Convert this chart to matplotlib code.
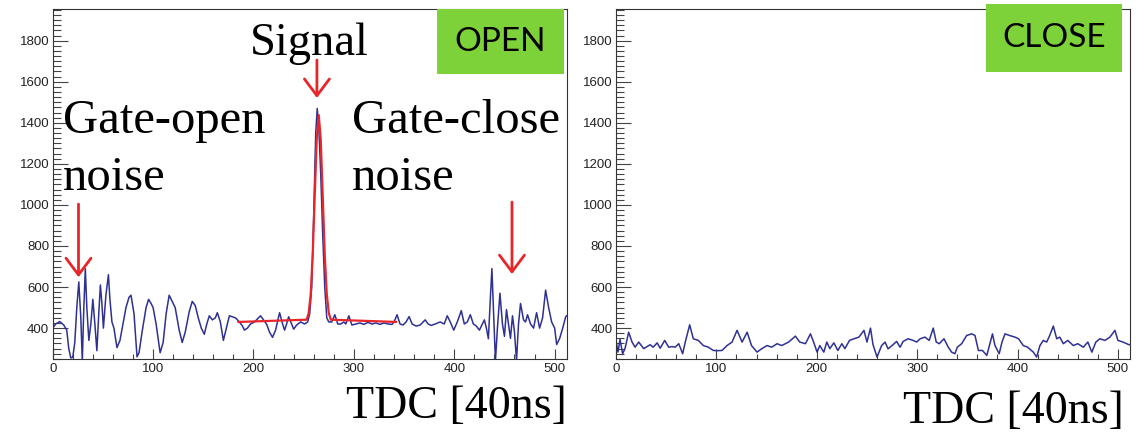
import numpy as np
import matplotlib
matplotlib.use("Agg")
import matplotlib.pyplot as plt
from matplotlib.patches import Rectangle

# TDC histogram, gate OPEN
open_x = [0, 3, 7, 11, 14, 16, 18, 20, 22, 24, 26, 28, 29.5, 31, 32.5, 34, 36, 38, 40, 42,
          44, 46, 47.5, 49, 50.5, 53, 55.5, 57, 59, 61, 64, 67, 70, 73, 76, 78, 81, 84, 86, 89,
          93, 95.5, 98, 100, 103, 107, 110, 113, 116, 119, 122, 126, 129, 132, 136, 139, 142,
          145, 148, 151, 153.5, 156, 159, 162, 164, 167, 170, 173, 176, 179, 182, 186, 189,
          191, 194, 197, 201, 204, 207, 210, 213, 216, 219, 222, 226, 229, 231, 233, 235, 238,
          240, 243, 247, 251, 254, 256, 258, 260, 262, 263.5, 265, 267, 269, 271, 273, 275,
          278, 281, 284, 287, 290, 292, 295, 298, 302, 306, 310, 314, 318, 322, 326, 330, 334,
          338, 340, 343, 346, 349, 352, 355, 358, 362, 366, 369, 371, 374, 377, 381, 386, 390,
          393, 396, 399.5, 403, 407, 410, 413, 416, 419, 422, 425, 428, 430, 432, 434, 436,
          437.5, 439, 441, 443, 445.5, 448, 450, 452, 454, 456, 458, 460, 462, 464, 466, 469,
          471, 473, 476, 479, 482, 485, 488, 491, 494, 497, 500, 502, 505, 508, 511, 512]
open_y = [400, 420, 432, 415, 390, 300, 255, 258, 330, 500, 625, 450, 240, 500, 690, 500, 340, 420, 540, 420,
          290, 480, 610, 520, 400, 560, 660, 540, 430, 400, 305, 340, 420, 500, 550, 560, 470, 260, 280, 380,
          500, 540, 520, 500, 420, 280, 330, 470, 560, 530, 500, 390, 330, 380, 480, 530, 510,
          450, 400, 370, 420, 460, 440, 450, 475, 430, 340, 400, 460, 455, 450, 430, 410,
          390, 400, 420, 430, 445, 460, 440, 420, 380, 355, 390, 475, 420, 390, 420, 455, 420,
          395, 415, 430, 420, 430, 470, 600, 950, 1350, 1470, 1380, 1150, 850, 600, 450, 430,
          430, 465, 420, 420, 430, 420, 460, 415, 420, 425, 418, 428, 420, 425, 418, 425, 420,
          418, 430, 465, 420, 415, 430, 456, 420, 410, 415, 430, 440, 420, 413, 420, 430, 420,
          460, 430, 390, 430, 485, 420, 430, 465, 420, 410, 390, 420, 440, 400, 348, 550,
          690, 500, 240, 400, 570, 420, 360, 490, 420, 350, 460, 380, 240, 420, 520, 440,
          430, 465, 420, 400, 475, 400, 450, 585, 500, 430, 400, 320, 350, 400, 455, 460]

# gaussian + constant fit drawn in red
fit_x = [185, 253, 255, 257, 259, 261, 263, 265, 267, 269, 271, 273, 275, 277, 342]
fit_y = [430, 441, 474, 566, 757, 1041, 1320, 1438, 1320, 1041, 757, 566, 474, 441, 430]

# TDC histogram, gate CLOSE
close_x = [0, 2, 4, 6.6, 9, 12.6, 16, 19, 22.6, 27.6, 31, 34, 37, 41, 44, 48.5, 52.5, 56, 59,
           62.5, 66.4, 69, 73.4, 77, 82, 87, 92, 97, 101, 105.6, 110.6, 115.6, 120.6, 125.6,
           130.6, 135, 140.5, 145, 150.5, 155, 160.5, 165, 172, 178.7, 183, 188.7, 193.7, 197,
           200.3, 203, 207, 210, 213, 217, 221, 225, 228, 232.6, 237, 242, 247, 250, 253.5, 256,
           260, 264.6, 268, 271, 275, 279.5, 283, 286, 291, 296, 299.5, 303, 307.8, 312, 316,
           319, 322, 326.7, 331, 334.3, 337.6, 340, 344.3, 349.3, 354.3, 357.6, 361, 365, 369.4,
           372, 375, 377.5, 381.7, 384.5, 387.5, 392, 397.4, 401, 405.7, 410, 415.7, 419, 422.3,
           425.6, 429, 432, 435.6, 439, 442, 445.6, 450, 455.5, 460, 465.5, 470, 474, 478, 482,
           487, 492, 497, 500, 505, 511, 512]
close_y = [340, 283, 345, 275, 300, 380, 332, 307, 332, 300, 310, 319, 307, 328, 302, 340, 307, 310, 307,
           324, 275, 332, 416, 348, 340, 315, 307, 291, 290, 291, 315, 332, 389, 332,
           380, 315, 283, 299, 315, 307, 324, 315, 332, 361, 332, 324, 372, 330,
           283, 315, 283, 332, 300, 328, 291, 324, 300, 340, 348, 356, 389, 332, 400, 320,
           259, 315, 332, 299, 315, 335, 307, 335, 348, 340, 332, 348, 356, 340, 400,
           332, 324, 348, 307, 283, 275, 307, 324, 364, 372, 364, 291, 291, 267,
           315, 372, 315, 275, 332, 372, 364, 356, 348, 315, 307, 283, 259, 315,
           340, 332, 364, 410, 348, 356, 324, 340, 315, 324, 307, 332, 283, 332, 348,
           340, 356, 389, 340, 332, 319, 320]

W, H = 1148, 434
BLUE = "#2E3192"
RED = "#E8262A"
GREEN = "#7DD23A"
SERIF = "Liberation Serif"


def fx(x):
    return x / W


def fy(y):
    return 1 - y / H


def style_axes(ax):
    ax.set_xlim(0, 512)
    ax.set_ylim(248, 1953)
    ax.set_xticks(np.arange(0, 501, 100))
    ax.set_xticks(np.arange(0, 513, 20), minor=True)
    ax.set_yticks(np.arange(400, 1801, 200))
    ax.set_yticks(np.arange(250, 1951, 25), minor=True)
    ax.tick_params(axis="both", which="both", direction="in", top=False, right=False,
                   labelsize=9.5, labelcolor="#222222", color="#444444", width=0.8)
    ax.tick_params(axis="y", which="major", length=11, pad=2.5)
    ax.tick_params(axis="y", which="minor", length=5.5)
    ax.tick_params(axis="x", which="major", length=7, pad=3)
    ax.tick_params(axis="x", which="minor", length=3.5)
    for lab in ax.get_xticklabels() + ax.get_yticklabels():
        lab.set_family("Liberation Sans")
    for s in ax.spines.values():
        s.set_linewidth(0.8)
        s.set_color("#333333")


fig = plt.figure(figsize=(W / 100, H / 100), dpi=100)

ax1 = fig.add_axes([fx(52.7), fy(359.3), fx(566.7) - fx(52.7), fy(9.3) - fy(359.3)])
ax1.plot(open_x, open_y, color=BLUE, lw=1.1, zorder=2)
ax1.plot(fit_x, fit_y, color=RED, lw=1.6, zorder=3)
style_axes(ax1)

ax2 = fig.add_axes([fx(616), fy(359.3), fx(1130) - fx(616), fy(9.3) - fy(359.3)])
ax2.plot(close_x, close_y, color=BLUE, lw=1.1)
style_axes(ax2)

# red arrows
arrow = dict(arrowstyle="->,head_length=0.6,head_width=0.45", color=RED, lw=2.0,
             mutation_scale=20, shrinkA=0, shrinkB=0)
ax1.annotate("", xy=(263.2, 1521), xytext=(263.2, 1706), arrowprops=arrow)
ax1.annotate("", xy=(25.7, 648), xytext=(25.7, 1004), arrowprops=arrow)
ax1.annotate("", xy=(457.5, 663), xytext=(457.5, 1014), arrowprops=arrow)

# annotation texts
big = 33
fig.text(fx(250), fy(55), "Signal", family=SERIF, size=big + 0.5, va="baseline")
fig.text(fx(63), fy(133), "Gate-open", family=SERIF, size=big + 2, va="baseline")
fig.text(fx(63), fy(190), "noise", family=SERIF, size=big + 2, va="baseline")
fig.text(fx(352), fy(133), "Gate-close", family=SERIF, size=big + 2, va="baseline")
fig.text(fx(352), fy(190), "noise", family=SERIF, size=big + 2, va="baseline")
fig.text(fx(346), fy(418), "TDC [40ns]", family=SERIF, size=big, va="baseline")
fig.text(fx(903), fy(423), "TDC [40ns]", family=SERIF, size=big, va="baseline")

# green state boxes
for (x0, y0, x1, y1), label in [((437, 9.3, 564, 74), "OPEN"), ((986, 4.3, 1122, 71.7), "CLOSE")]:
    fig.patches.append(Rectangle((fx(x0), fy(y1)), fx(x1) - fx(x0), fy(y0) - fy(y1),
                                 transform=fig.transFigure, facecolor=GREEN,
                                 edgecolor="none", zorder=5))
    fig.text(fx((x0 + x1) / 2), fy((y0 + y1) / 2), label, family="Lato", size=24,
             ha="center", va="center", zorder=6)

fig.savefig("out.png", dpi=100)
